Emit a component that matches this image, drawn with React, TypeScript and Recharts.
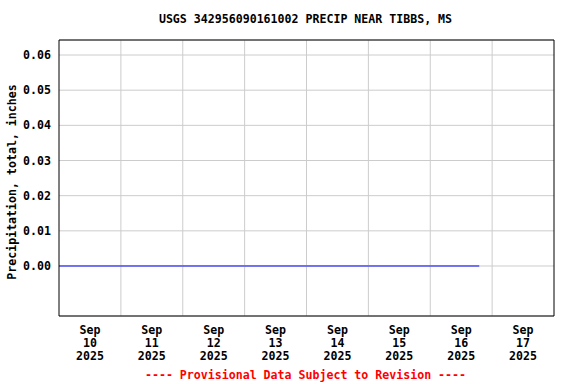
import React from "react";
import { LineChart, Line, XAxis, YAxis, CartesianGrid, ReferenceLine } from "recharts";

// days since 2025-09-10 00:00
const times = [0, 1, 2, 3, 4, 5, 6, 6.7917];
const precip = [0, 0, 0, 0, 0, 0, 0, 0];
const tickDays = [0.5, 1.5, 2.5, 3.5, 4.5, 5.5, 6.5, 7.5];
const tickMonth = ["Sep", "Sep", "Sep", "Sep", "Sep", "Sep", "Sep", "Sep"];
const tickDate = ["10", "11", "12", "13", "14", "15", "16", "17"];
const tickYear = ["2025", "2025", "2025", "2025", "2025", "2025", "2025", "2025"];
const dayBoundaries = [1, 2, 3, 4, 5, 6, 7];
const yTicks = [0, 0.01, 0.02, 0.03, 0.04, 0.05, 0.06];
const xDomain = [0, 8];
const yDomain = [-0.01422, 0.06427];

const data = times.map((t, i) => ({ t, v: precip[i] }));

const FONT = "'DejaVu Sans Mono', 'Liberation Mono', monospace";
const FS = 11.6;

const XTick = (props: any) => {
  const { x, y, payload } = props;
  const i = tickDays.indexOf(payload.value);
  return (
    <g>
      <text x={x} y={y + 18} textAnchor="middle" fontFamily={FONT} fontSize={FS} fontWeight="bold" fill="#000">{tickMonth[i]}</text>
      <text x={x} y={y + 31} textAnchor="middle" fontFamily={FONT} fontSize={FS} fontWeight="bold" fill="#000">{tickDate[i]}</text>
      <text x={x} y={y + 44} textAnchor="middle" fontFamily={FONT} fontSize={FS} fontWeight="bold" fill="#000">{tickYear[i]}</text>
    </g>
  );
};

export default function App() {
  return (
    <div style={{ position: "absolute", left: 0, top: 0, width: 576, height: 384, background: "#fff" }}>
      <LineChart width={576} height={384} data={data} margin={{ top: 40, right: 22, bottom: 0, left: 0 }}>
        <CartesianGrid stroke="#cccccc" vertical={false} />
        {dayBoundaries.map((d) => (
          <ReferenceLine key={d} x={d} stroke="#cccccc" />
        ))}
        <XAxis
          dataKey="t"
          type="number"
          domain={xDomain}
          ticks={tickDays}
          tick={<XTick />}
          tickLine={false}
          tickSize={0}
          tickMargin={0}
          height={68}
          axisLine={{ stroke: "#000", strokeWidth: 1 }}
          allowDataOverflow
        />
        <YAxis
          type="number"
          domain={yDomain}
          ticks={yTicks}
          tickFormatter={(v: number) => v.toFixed(2)}
          tick={{ fontFamily: FONT, fontSize: FS, fontWeight: "bold", fill: "#000" }}
          tickLine={false}
          tickSize={0}
          tickMargin={8}
          width={59}
          axisLine={{ stroke: "#000", strokeWidth: 1 }}
          allowDataOverflow
          label={{
            value: "Precipitation, total, inches",
            angle: -90,
            position: "insideLeft",
            offset: 0,
            dx: 12,
            dy: 4,
            style: { fontFamily: FONT, fontSize: FS, fontWeight: "bold", fill: "#000", textAnchor: "middle" },
          }}
        />
        <ReferenceLine y={yDomain[1]} stroke="#000" strokeWidth={1} ifOverflow="extendDomain" />
        <ReferenceLine x={xDomain[1]} stroke="#000" strokeWidth={1} ifOverflow="extendDomain" />
        <Line dataKey="v" stroke="#0000ff" strokeWidth={1} dot={false} isAnimationActive={false} />
      </LineChart>
      <div style={{ position: "absolute", left: 0, top: 12, width: 611, textAlign: "center", fontFamily: FONT, fontSize: FS, fontWeight: "bold", lineHeight: "14px", color: "#000", whiteSpace: "pre" }}>
        USGS 342956090161002 PRECIP NEAR TIBBS, MS
      </div>
      <div style={{ position: "absolute", left: 0, top: 368, width: 611, textAlign: "center", fontFamily: FONT, fontSize: FS, fontWeight: "bold", lineHeight: "14px", color: "#ff0000", whiteSpace: "pre" }}>
        ---- Provisional Data Subject to Revision ----
      </div>
    </div>
  );
}
